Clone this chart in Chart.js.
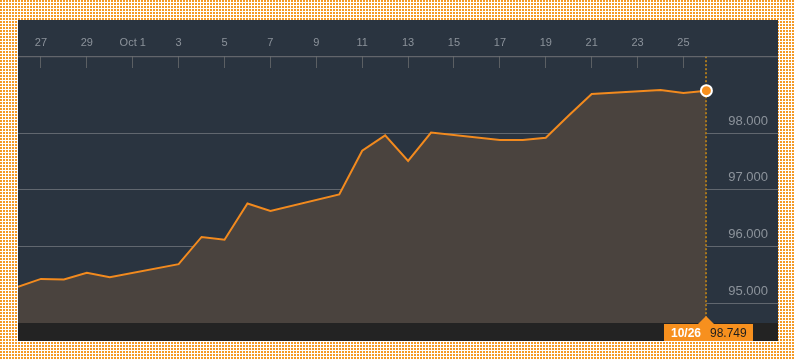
<!DOCTYPE html>
<html>
<head>
<meta charset="utf-8">
<script src="https://cdn.jsdelivr.net/npm/chart.js@4/dist/chart.umd.min.js"></script>
<style>
  html, body { margin:0; padding:0; }
  body {
    width:795px; height:360px; overflow:hidden; position:relative;
    background-color:#f59a25;
    background-image:
      linear-gradient(90deg, transparent 2px, #fff 2px),
      linear-gradient(180deg, transparent 2px, #fff 2px);
    background-size:3px 3px;
  }
  #panel { position:absolute; left:18px; top:20px; width:760px; height:321px; background:#2a3440; }
  canvas { display:block; }
</style>
</head>
<body>
<div id="panel"><canvas id="chart" width="760" height="321"></canvas></div>
<script>
// DXY close, Sep 26 - Oct 26 2016 (trading days only)
const dates = ['2016-09-26','2016-09-27','2016-09-28','2016-09-29','2016-09-30',
  '2016-10-03','2016-10-04','2016-10-05','2016-10-06','2016-10-07',
  '2016-10-10','2016-10-11','2016-10-12','2016-10-13','2016-10-14',
  '2016-10-17','2016-10-18','2016-10-19','2016-10-20','2016-10-21',
  '2016-10-24','2016-10-25','2016-10-26'];
const values = [95.29,95.43,95.42,95.54,95.46,
  95.69,96.17,96.12,96.76,96.63,
  96.92,97.69,97.96,97.51,98.01,
  97.88,97.88,97.92,98.31,98.69,
  98.76,98.71,98.749];
const tickDates = ['2016-09-27','2016-09-29','2016-10-01','2016-10-03','2016-10-05','2016-10-07','2016-10-09',
  '2016-10-11','2016-10-13','2016-10-15','2016-10-17','2016-10-19','2016-10-21','2016-10-23','2016-10-25'];
const tickLabels = ['27','29','Oct 1','3','5','7','9','11','13','15','17','19','21','23','25'];
const yTicks = [95,96,97,98];
const lastLabel = '10/26';

const t0 = Date.parse(dates[0]);
const day = d => (Date.parse(d) - t0) / 86400000;
const points = dates.map((d,i) => ({x:day(d), y:values[i]}));
const tickDays = tickDates.map(day);
const lastX = points.at(-1).x, lastY = values.at(-1);

const ORANGE = '#f28a1e';
const FONT = 'Arial, "Liberation Sans", sans-serif';

const decor = {
  id:'decor',
  beforeDraw(c){
    const {ctx, chartArea:a, width, height} = c;
    ctx.save();
    ctx.fillStyle = '#232323';
    ctx.fillRect(0, a.bottom, width, height - a.bottom);
    ctx.restore();
  },
  beforeDatasetsDraw(c){
    const {ctx, chartArea:a, scales:{x}} = c;
    const px = Math.round(x.getPixelForValue(lastX));
    ctx.save();
    ctx.strokeStyle = '#a8781e';
    ctx.lineWidth = 2;
    ctx.setLineDash([2,2]);
    ctx.beginPath();
    ctx.moveTo(px, x.bottom - 12);
    ctx.lineTo(px, a.bottom);
    ctx.stroke();
    ctx.restore();
  },
  afterDraw(c){
    const {ctx, chartArea:a, scales:{x}} = c;
    // axis line on top
    ctx.save();
    ctx.strokeStyle = '#6f7275';
    ctx.lineWidth = 1;
    ctx.beginPath();
    ctx.moveTo(0, x.bottom - 12 + 0.5);
    ctx.lineTo(c.width, x.bottom - 12 + 0.5);
    ctx.stroke();
    // last value flag
    const px = Math.round(x.getPixelForValue(lastX));
    const top = a.bottom + 1, h = c.height - top;
    ctx.fillStyle = '#f7901e';
    ctx.fillRect(px - 42, top, 89, h);
    ctx.beginPath();
    ctx.moveTo(px - 8, top);
    ctx.lineTo(px, a.bottom - 7);
    ctx.lineTo(px + 8, top);
    ctx.closePath();
    ctx.fill();
    ctx.textBaseline = 'middle';
    ctx.textAlign = 'left';
    ctx.font = 'bold 12px ' + FONT;
    ctx.fillStyle = '#fff';
    ctx.fillText(lastLabel, px - 35, top + h/2 + 1);
    ctx.font = '12px ' + FONT;
    ctx.fillStyle = '#1e1e1e';
    ctx.fillText(lastY.toFixed(3), px + 4, top + h/2 + 1);
    ctx.restore();
  }
};

new Chart(document.getElementById('chart'), {
  type:'line',
  data:{ datasets:[{
    data:points,
    borderColor:ORANGE,
    borderWidth:2,
    fill:'start',
    backgroundColor:'#4a433e',
    tension:0,
    pointRadius: ctx => ctx.dataIndex === points.length - 1 ? 5.5 : 0,
    pointBackgroundColor:'#f7901e',
    pointBorderColor:'#fff',
    pointBorderWidth:2
  }]},
  options:{
    responsive:false,
    animation:false,
    layout:{ autoPadding:false, padding:{ top:9, bottom:18, left:0, right:0 } },
    plugins:{ legend:{display:false}, tooltip:{enabled:false}, filler:{drawTime:'beforeDatasetsDraw'} },
    scales:{
      x:{
        type:'linear', position:'top', min:0, max:33.12,
        afterBuildTicks: s => { s.ticks = tickDays.map(v => ({value:v})); },
        afterFit: s => { s.paddingLeft = 0; s.paddingRight = 0; },
        ticks:{ callback:(v,i) => tickLabels[i], color:'#8c939b', font:{family:FONT, size:11}, padding:7, maxRotation:0, autoSkip:false },
        grid:{ drawOnChartArea:false, drawTicks:true, tickLength:12, color:'#5b5f63', lineWidth:1 },
        border:{ display:false }
      },
      y:{
        position:'right', min:94.653, max:99.145, z:1,
        afterBuildTicks: s => { s.ticks = yTicks.map(v => ({value:v})); },
        afterFit: s => { s.width = 0; s.paddingTop = 0; s.paddingBottom = 0; },
        ticks:{ mirror:true, padding:-10, labelOffset:-12, callback:v => v.toFixed(3), color:'#8c939b', font:{family:FONT, size:13} },
        grid:{ drawTicks:false, color:'rgba(200,200,200,0.35)', lineWidth:1 },
        border:{ display:false }
      }
    }
  },
  plugins:[decor]
});
</script>
</body>
</html>
